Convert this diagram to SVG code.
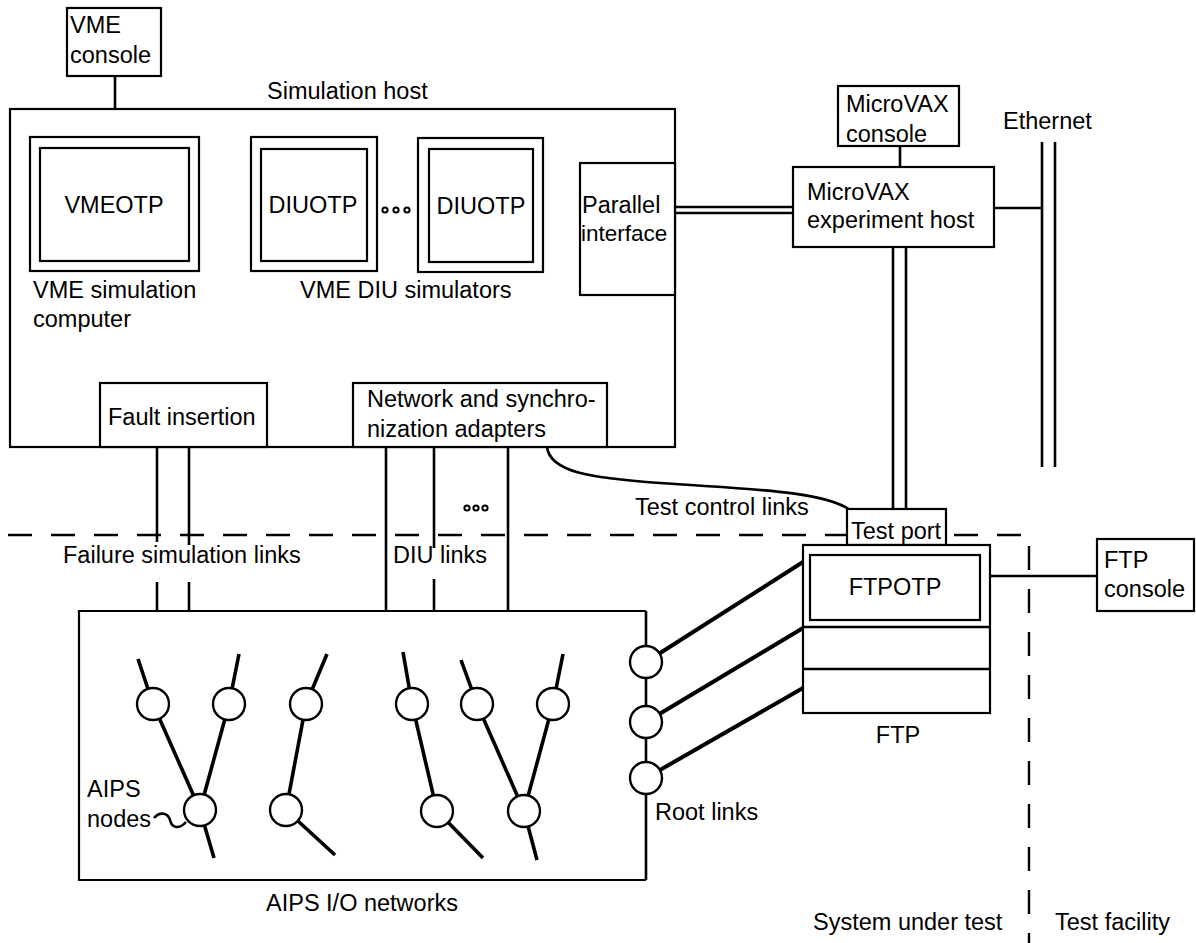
<svg xmlns="http://www.w3.org/2000/svg" width="1196" height="943" viewBox="0 0 1196 943">
<style>
text{font-family:"Liberation Sans",Arial,Helvetica,sans-serif;font-size:23.5px;fill:#000}
.c{text-anchor:middle}
.box{fill:#fff;stroke:#000;stroke-width:2.2}
.frame{fill:none;stroke:#000;stroke-width:2.2}
.ln{fill:none;stroke:#000;stroke-width:2.6}
.thick{fill:none;stroke:#000;stroke-width:4}
.node{fill:#fff;stroke:#000;stroke-width:2.4}
.dash{fill:none;stroke:#000;stroke-width:2.4;stroke-dasharray:24 19}
.dot{fill:#fff;stroke:#000;stroke-width:2}
</style>
<rect width="1196" height="943" fill="#fff"/>

<g id="simulation-host">
<rect class="frame" x="10" y="109" width="665" height="338"/>
<text x="267" y="99">Simulation host</text>
</g>

<g id="aips-io-networks">
<path class="frame" d="M646,611 H79 V880 H646"/>
<text class="c" x="362" y="911">AIPS I/O networks</text>
</g>

<g id="boundary">
<path class="dash" d="M8,535 H1029 V943"/>
</g>

<g id="connectors">
<line class="ln" x1="115" y1="76" x2="115" y2="109"/>
<line class="ln" x1="675" y1="207" x2="793" y2="207"/>
<line class="ln" x1="675" y1="213" x2="793" y2="213"/>
<line class="ln" x1="900" y1="146" x2="900" y2="167"/>
<line class="ln" x1="994" y1="208" x2="1042" y2="208"/>
<line class="ln" x1="1042" y1="142" x2="1042" y2="467"/>
<line class="ln" x1="1055" y1="142" x2="1055" y2="467"/>
<line class="ln" x1="893" y1="247" x2="893" y2="509"/>
<line class="ln" x1="906" y1="247" x2="906" y2="509"/>
<path class="ln" d="M547,447 C550,472 590,478 660,483 C740,489 822,490 850,510"/>
<line class="ln" x1="157" y1="447" x2="157" y2="542"/>
<line class="ln" x1="157" y1="582" x2="157" y2="611"/>
<line class="ln" x1="189" y1="447" x2="189" y2="545"/>
<line class="ln" x1="189" y1="582" x2="189" y2="611"/>
<line class="ln" x1="386" y1="447" x2="386" y2="611"/>
<line class="ln" x1="434" y1="447" x2="434" y2="548"/>
<line class="ln" x1="434" y1="579" x2="434" y2="611"/>
<line class="ln" x1="508" y1="447" x2="508" y2="611"/>
<line class="ln" x1="990" y1="576" x2="1097" y2="576"/>
<line class="ln" x1="646" y1="611" x2="646" y2="880"/>
<line class="thick" x1="646" y1="662" x2="803" y2="562"/>
<line class="thick" x1="646" y1="722" x2="803" y2="628"/>
<line class="thick" x1="646" y1="778" x2="803" y2="688"/>
<g class="thick" style="stroke-width:3.6">
<line x1="138" y1="659" x2="153" y2="704"/>
<line x1="239" y1="654" x2="229" y2="704"/>
<line x1="327" y1="654" x2="306" y2="704"/>
<line x1="403" y1="652" x2="412" y2="704"/>
<line x1="461" y1="660" x2="477" y2="704"/>
<line x1="563" y1="654" x2="553" y2="704"/>
<line x1="153" y1="704" x2="200" y2="810"/>
<line x1="229" y1="704" x2="200" y2="810"/>
<line x1="200" y1="810" x2="214" y2="858"/>
<line x1="306" y1="704" x2="286" y2="810"/>
<line x1="286" y1="810" x2="335" y2="855"/>
<line x1="412" y1="704" x2="437" y2="811"/>
<line x1="437" y1="811" x2="483" y2="858"/>
<line x1="477" y1="704" x2="524" y2="811"/>
<line x1="553" y1="704" x2="524" y2="811"/>
<line x1="524" y1="811" x2="537" y2="860"/>
</g>
<path class="ln" d="M154,818 C160,811 168,813 170,820 C172,829 180,829 186,822"/>
</g>

<g id="vme-console">
<rect class="box" x="67" y="8" width="94" height="68"/>
<text x="70" y="33">VME</text>
<text x="70" y="63">console</text>
</g>

<g id="vmeotp">
<rect class="box" x="30" y="137" width="169" height="134"/>
<rect class="box" x="40" y="148" width="149" height="113"/>
<text class="c" x="114" y="213">VMEOTP</text>
<text x="33" y="298">VME simulation</text>
<text x="33" y="327">computer</text>
</g>

<g id="diuotp-1">
<rect class="box" x="251" y="137" width="126" height="134"/>
<rect class="box" x="261" y="149" width="106" height="112"/>
<text class="c" x="313" y="213">DIUOTP</text>
</g>
<g id="diu-ellipsis">
<circle class="dot" cx="385" cy="210" r="2.6"/>
<circle class="dot" cx="396" cy="210" r="2.6"/>
<circle class="dot" cx="407" cy="210" r="2.6"/>
</g>
<g id="diuotp-2">
<rect class="box" x="418" y="138" width="125" height="134"/>
<rect class="box" x="429" y="149" width="104" height="113"/>
<text class="c" x="481" y="214">DIUOTP</text>
<text x="300" y="298">VME DIU simulators</text>
</g>

<g id="parallel-interface">
<rect class="box" x="580" y="163" width="95" height="132"/>
<text x="582" y="213">Parallel</text>
<text x="581" y="241" style="font-size:22.5px">interface</text>
</g>

<g id="microvax-console">
<rect class="box" x="838" y="86" width="121" height="60"/>
<text x="846" y="112">MicroVAX</text>
<text x="846" y="142">console</text>
</g>

<g id="microvax-host">
<rect class="box" x="793" y="167" width="201" height="80"/>
<text x="807" y="200">MicroVAX</text>
<text x="807" y="228">experiment host</text>
</g>

<g id="ethernet">
<text x="1003" y="129">Ethernet</text>
</g>

<g id="fault-insertion">
<rect class="box" x="100" y="383" width="167" height="64"/>
<text x="108" y="425">Fault insertion</text>
</g>

<g id="network-adapters">
<rect class="box" x="353" y="383" width="254" height="64"/>
<text x="367" y="407">Network and synchro-</text>
<text x="367" y="437">nization adapters</text>
</g>

<g id="dil-ellipsis">
<circle class="dot" cx="467" cy="508" r="2.6"/>
<circle class="dot" cx="476" cy="508" r="2.6"/>
<circle class="dot" cx="485" cy="508" r="2.6"/>
</g>

<g id="link-labels">
<text x="635" y="515">Test control links</text>
<text x="63" y="563">Failure simulation links</text>
<text x="393" y="563">DIU links</text>
<text x="655" y="820">Root links</text>
<text x="87" y="797">AIPS</text>
<text x="87" y="827">nodes</text>
</g>

<g id="test-port">
<rect class="box" x="847" y="509" width="99" height="36"/>
<text x="851" y="539">Test port</text>
</g>

<g id="ftp">
<rect class="box" x="803" y="545" width="187" height="168"/>
<rect class="box" x="810" y="555" width="170" height="65"/>
<line class="ln" x1="803" y1="627" x2="990" y2="627"/>
<line class="ln" x1="803" y1="669" x2="990" y2="669"/>
<text class="c" x="895" y="595">FTPOTP</text>
<text class="c" x="898" y="743">FTP</text>
</g>

<g id="ftp-console">
<rect class="box" x="1097" y="539" width="97" height="72"/>
<text x="1104" y="568">FTP</text>
<text x="1104" y="597">console</text>
</g>

<g id="aips-nodes">
<circle class="node" cx="153" cy="704" r="16"/>
<circle class="node" cx="229" cy="704" r="16"/>
<circle class="node" cx="306" cy="704" r="16"/>
<circle class="node" cx="412" cy="704" r="16"/>
<circle class="node" cx="477" cy="704" r="16"/>
<circle class="node" cx="553" cy="704" r="16"/>
<circle class="node" cx="200" cy="810" r="16"/>
<circle class="node" cx="286" cy="810" r="16"/>
<circle class="node" cx="437" cy="811" r="16"/>
<circle class="node" cx="524" cy="811" r="16"/>
</g>

<g id="root-nodes">
<circle class="node" cx="646" cy="662" r="16"/>
<circle class="node" cx="646" cy="722" r="16"/>
<circle class="node" cx="646" cy="778" r="16"/>
</g>

<g id="boundary-labels">
<text x="813" y="930">System under test</text>
<text x="1055" y="930">Test facility</text>
</g>
</svg>
